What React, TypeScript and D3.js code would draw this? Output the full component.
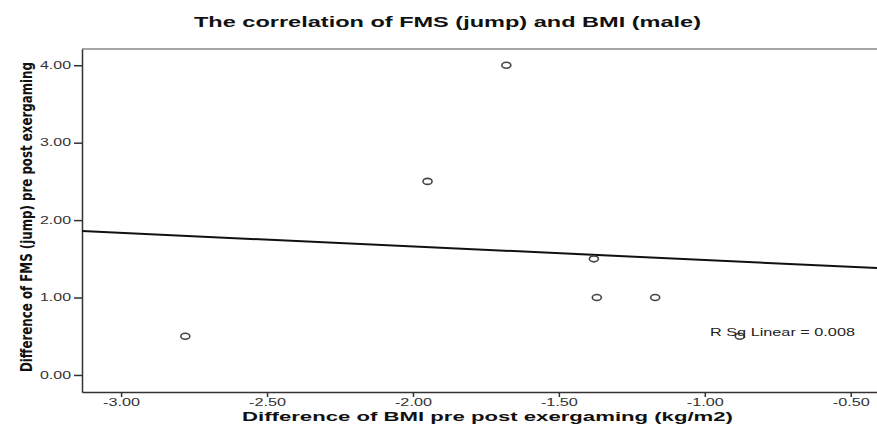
import React, { useEffect, useRef } from 'react';
import * as d3 from 'd3';

const width = 877;
const height = 432;

// scatter points
const bmiDiff = [-2.78, -1.95, -1.68, -1.38, -1.37, -1.17, -0.88];
const fmsDiff = [0.5, 2.5, 4.0, 1.5, 1.0, 1.0, 0.5];

const xTicks = [-3.0, -2.5, -2.0, -1.5, -1.0, -0.5];
const yTicks = [0, 1, 2, 3, 4];

// fit line as drawn in the reference
const fitSlope = -0.175;
const fitIntercept = 1.31;
const rSqLabel = 'R Sq Linear = 0.008';

const titleText = 'The correlation of FMS (jump) and BMI (male)';
const xLabel = 'Difference of BMI pre post exergaming (kg/m2)';
const yLabel = 'Difference of FMS (jump) pre post exergaming';

// plain hyphen, like the SPSS output
const fmt = (d) => Number(d).toFixed(2);

const App = () => {
  const svgRef = useRef<SVGSVGElement>(null);

  useEffect(() => {
    const svg = d3.select(svgRef.current);
    svg.selectAll('*').remove();

    const left = 82;
    const right = 877;
    const top = 49;
    const bottom = 392;

    const x = d3.scaleLinear().domain([-3.134, -0.41]).range([left, right]);
    const y = d3.scaleLinear().domain([-0.22, 4.21]).range([bottom, top]);

    svg.append('rect').attr('width', width).attr('height', height).attr('fill', '#fff');

    // title
    svg
      .append('text')
      .attr('x', 194)
      .attr('y', 27)
      .attr('textLength', 507)
      .attr('lengthAdjust', 'spacingAndGlyphs')
      .style('font-family', 'Liberation Sans, Arial, sans-serif')
      .style('font-weight', 'bold')
      .style('font-size', '15.5px')
      .attr('fill', '#111')
      .text(titleText);

    // frame top
    svg
      .append('line')
      .attr('x1', left)
      .attr('x2', right)
      .attr('y1', top)
      .attr('y2', top)
      .attr('stroke', '#888')
      .attr('stroke-width', 1.5);

    // x axis
    const xAxis = svg
      .append('g')
      .attr('transform', `translate(0,${bottom})`)
      .call(
        d3
          .axisBottom(x)
          .tickValues(xTicks)
          .tickSize(5)
          .tickSizeOuter(0)
          .tickPadding(2)
          .tickFormat(fmt)
      );
    xAxis.select('.domain').attr('stroke', '#333').attr('stroke-width', 1.5);
    xAxis.selectAll('.tick line').attr('stroke', '#333').attr('stroke-width', 1.5);
    xAxis
      .selectAll('.tick text')
      .attr('textLength', 37)
      .attr('lengthAdjust', 'spacingAndGlyphs')
      .style('font-family', 'Liberation Sans, Arial, sans-serif')
      .style('font-size', '10px')
      .attr('fill', '#333');

    // y axis
    const yAxis = svg
      .append('g')
      .attr('transform', `translate(${left},0)`)
      .call(
        d3
          .axisLeft(y)
          .tickValues(yTicks)
          .tickSize(8)
          .tickSizeOuter(0)
          .tickPadding(3)
          .tickFormat(fmt)
      );
    yAxis.select('.domain').attr('stroke', '#333').attr('stroke-width', 1.5);
    yAxis.selectAll('.tick line').attr('stroke', '#333').attr('stroke-width', 1.5);
    yAxis
      .selectAll('.tick text')
      .attr('textLength', 31)
      .attr('lengthAdjust', 'spacingAndGlyphs')
      .style('font-family', 'Liberation Sans, Arial, sans-serif')
      .style('font-size', '10px')
      .attr('fill', '#333');

    // axis titles
    svg
      .append('text')
      .attr('x', 242)
      .attr('y', 421)
      .attr('textLength', 491)
      .attr('lengthAdjust', 'spacingAndGlyphs')
      .style('font-family', 'Liberation Sans, Arial, sans-serif')
      .style('font-weight', 'bold')
      .style('font-size', '13.5px')
      .attr('fill', '#111')
      .text(xLabel);

    svg
      .append('text')
      .attr('transform', 'translate(32,372) rotate(-90)')
      .attr('textLength', 310)
      .attr('lengthAdjust', 'spacingAndGlyphs')
      .style('font-family', 'Liberation Sans Narrow, DejaVu Sans Condensed, Arial, sans-serif')
      .style('font-weight', 'bold')
      .style('font-size', '15px')
      .attr('fill', '#111')
      .text(yLabel);

    // fit line
    const [x0, x1] = x.domain();
    svg
      .append('line')
      .attr('x1', x(x0))
      .attr('y1', y(fitIntercept + fitSlope * x0))
      .attr('x2', x(x1))
      .attr('y2', y(fitIntercept + fitSlope * x1))
      .attr('stroke', '#111')
      .attr('stroke-width', 2);

    // points
    svg
      .append('g')
      .selectAll('ellipse')
      .data(bmiDiff.map((v, i) => [v, fmsDiff[i]]))
      .enter()
      .append('ellipse')
      .attr('cx', (d) => x(d[0]))
      .attr('cy', (d) => y(d[1]))
      .attr('rx', 4.5)
      .attr('ry', 3)
      .attr('fill', 'none')
      .attr('stroke', '#444')
      .attr('stroke-width', 1.6);

    // R squared label
    svg
      .append('text')
      .attr('x', 710)
      .attr('y', 336)
      .attr('textLength', 145)
      .attr('lengthAdjust', 'spacingAndGlyphs')
      .style('font-family', 'Liberation Sans, Arial, sans-serif')
      .style('font-size', '10.5px')
      .attr('fill', '#222')
      .text(rSqLabel);
  }, []);

  return (
    <svg
      ref={svgRef}
      width={width}
      height={height}
      style={{ position: 'absolute', left: 0, top: 0, display: 'block' }}
    />
  );
};

export default App;
